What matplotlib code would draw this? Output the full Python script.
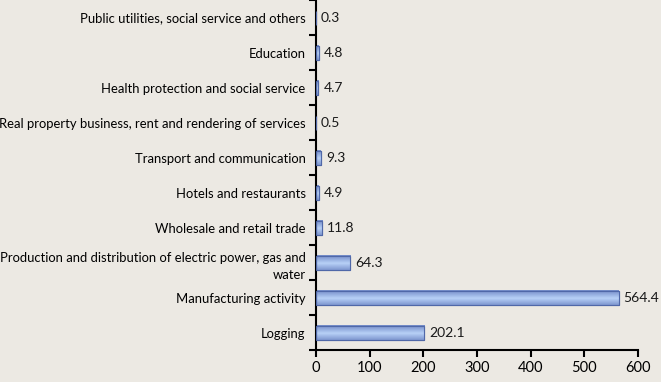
import matplotlib
matplotlib.use("Agg")
import matplotlib.pyplot as plt
import numpy as np

categories = [
    "Logging",
    "Manufacturing activity",
    "Production and distribution of electric power, gas and\nwater",
    "Wholesale and retail trade",
    "Hotels and restaurants",
    "Transport and communication",
    "Real property business, rent and rendering of services",
    "Health protection and social service",
    "Education",
    "Public utilities, social service and others",
]
values = [202.1, 564.4, 64.3, 11.8, 4.9, 9.3, 0.5, 4.7, 4.8, 0.3]
value_labels = ["202.1", "564.4", "64.3", "11.8", "4.9", "9.3", "0.5", "4.7", "4.8", "0.3"]
xticks = [0, 100, 200, 300, 400, 500, 600]

plt.rcParams['font.family'] = ['Lato', 'DejaVu Sans']
bg = "#ECE9E3"
fig = plt.figure(figsize=(6.61, 3.82), dpi=100, facecolor=bg)
ax = fig.add_axes([0.478, 0.083, 0.487, 0.917], facecolor=bg)

y = np.arange(len(categories))
bars = ax.barh(y, values, height=0.4, color="#8EB0E8", edgecolor="#5068A8", linewidth=0.8, zorder=2)

# gradient effect inside bars
grad = np.linspace(0, 1, 64)
prof = 1 - np.abs(grad - 0.45) * 1.4
prof = np.clip(prof, 0, 1)
dark = np.array([0.36, 0.45, 0.72])
light = np.array([0.72, 0.82, 0.97])
img = dark[None, :] + (light - dark)[None, :] * prof[:, None]
img = img[:, None, :]
for b in bars:
    x0, y0 = b.get_x(), b.get_y()
    w, h = b.get_width(), b.get_height()
    if w > 0:
        ax.imshow(img, extent=(x0, x0 + w, y0 + h, y0), aspect='auto', zorder=2.5, interpolation='bilinear')
        ax.add_patch(plt.Rectangle((x0, y0), w, h, fill=False, edgecolor="#5068A8", linewidth=0.8, zorder=3))

for yi, v, lab in zip(y, values, value_labels):
    ax.annotate(lab, (v, yi), xytext=(3.5, 0), textcoords='offset points',
                va='center', ha='left', fontsize=10, color="#1a1a1a", zorder=4,
                annotation_clip=False)

ax.set_xlim(0, 600)
ax.set_ylim(-0.5, len(categories) - 0.5)
ax.set_xticks(xticks)
ax.set_xticklabels([str(t) for t in xticks], fontsize=10.5)
ax.set_yticks(y)
ax.set_yticklabels(categories, fontsize=9.35, linespacing=1.55)
ax.set_yticks(np.arange(-0.5, len(categories), 1), minor=True)
ax.tick_params(axis='y', which='major', length=0, pad=7.5)
ax.tick_params(axis='y', which='minor', length=5, width=1.5, direction='out')
ax.tick_params(axis='x', length=5, width=1.5, direction='out', pad=3)
for s in ['top', 'right']:
    ax.spines[s].set_visible(False)
for s in ['left', 'bottom']:
    ax.spines[s].set_linewidth(1.5)
ax.grid(False)

fig.savefig("out.png", dpi=100, facecolor=bg)
